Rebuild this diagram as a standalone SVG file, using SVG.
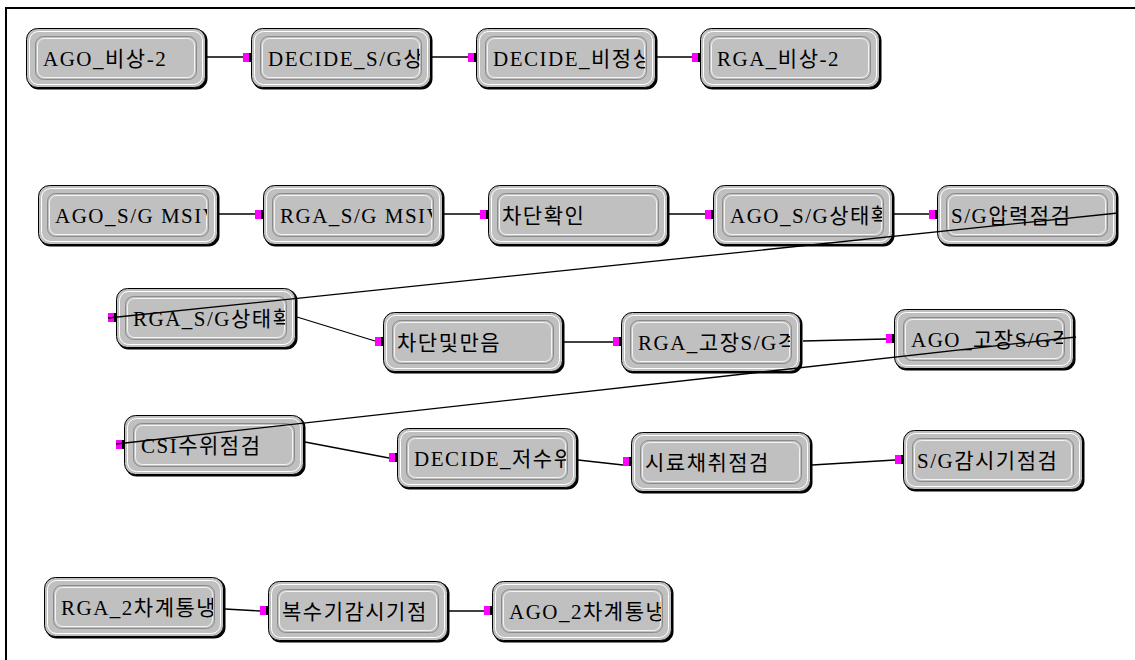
<svg xmlns="http://www.w3.org/2000/svg" width="1135" height="660" viewBox="0 0 1135 660">
  <style>
    .lbl { font-family: "Liberation Serif", "Noto Sans CJK KR", serif; font-size: 21px; letter-spacing: 1.5px; fill: #000; }
    .wire { stroke: #000; stroke-width: 1.3; fill: none; }
    .frame { stroke: #000; stroke-width: 2; fill: none; }
  </style>
  <defs>
    <!-- rounded bevelled box used by every step -->
    <g id="node-shape">
      <rect x="1.5" y="1.5" width="180" height="60" rx="11" fill="#000"/>
      <rect x="0.5" y="0.5" width="179" height="59" rx="11" fill="#c0c0c0" stroke="#000"/>
      <rect x="3.5" y="3.5" width="173" height="53" rx="9" fill="none" stroke="#fff"/>
      <rect x="9.5" y="8.5" width="161" height="43" rx="8" fill="#c0c0c0" stroke="#8a8a8a"/>
      <rect x="11.5" y="10.5" width="157" height="39" rx="7" fill="none" stroke="#f4f4f4"/>
    </g>
    <!-- input port on the left edge -->
    <g id="port">
      <rect x="-8" y="25" width="6" height="9" fill="#ff00ff"/>
      <rect x="-2" y="25" width="2" height="9" fill="#000"/>
    </g>
  </defs>

  <rect width="1135" height="660" fill="#fff"/>
  <path class="frame" d="M6,660 V8 H1135"/>

  <g id="nodes">
    <g id="n1" transform="translate(26,28)">
      <use href="#node-shape"/>
      <svg x="10" y="9" width="159" height="42"><text class="lbl" x="7" y="29">AGO_비상-2</text></svg>
    </g>
    <g id="n2" transform="translate(251,28)">
      <use href="#node-shape"/><use href="#port"/>
      <svg x="10" y="9" width="159" height="42"><text class="lbl" x="7" y="29">DECIDE_S/G상</text></svg>
    </g>
    <g id="n3" transform="translate(476,28)">
      <use href="#node-shape"/><use href="#port"/>
      <svg x="10" y="9" width="159" height="42"><text class="lbl" x="7" y="29">DECIDE_비정상</text></svg>
    </g>
    <g id="n4" transform="translate(700,28)">
      <use href="#node-shape"/><use href="#port"/>
      <svg x="10" y="9" width="159" height="42"><text class="lbl" x="7" y="29">RGA_비상-2</text></svg>
    </g>

    <g id="n5" transform="translate(38,185)">
      <use href="#node-shape"/>
      <svg x="10" y="9" width="159" height="42"><text class="lbl" x="7" y="29">AGO_S/G MSIV</text></svg>
    </g>
    <g id="n6" transform="translate(263,185)">
      <use href="#node-shape"/><use href="#port"/>
      <svg x="10" y="9" width="159" height="42"><text class="lbl" x="7" y="29">RGA_S/G MSIV</text></svg>
    </g>
    <g id="n7" transform="translate(488,185)">
      <use href="#node-shape"/><use href="#port"/>
      <svg x="10" y="9" width="159" height="42"><text class="lbl" x="4" y="29">차단확인</text></svg>
    </g>
    <g id="n8" transform="translate(713,185)">
      <use href="#node-shape"/><use href="#port"/>
      <svg x="10" y="9" width="159" height="42"><text class="lbl" x="7" y="29">AGO_S/G상태확</text></svg>
    </g>
    <g id="n9" transform="translate(937,185)">
      <use href="#node-shape"/><use href="#port"/>
      <svg x="10" y="9" width="159" height="42"><text class="lbl" x="4" y="29">S/G압력점검</text></svg>
    </g>

    <g id="n10" transform="translate(116,288)">
      <use href="#node-shape"/><use href="#port"/>
      <svg x="10" y="9" width="159" height="42"><text class="lbl" x="7" y="29">RGA_S/G상태확</text></svg>
    </g>
    <g id="n11" transform="translate(383,312)">
      <use href="#node-shape"/><use href="#port"/>
      <svg x="10" y="9" width="159" height="42"><text class="lbl" x="4" y="29">차단및만음</text></svg>
    </g>
    <g id="n12" transform="translate(621,312)">
      <use href="#node-shape"/><use href="#port"/>
      <svg x="10" y="9" width="159" height="42"><text class="lbl" x="7" y="29">RGA_고장S/G격</text></svg>
    </g>
    <g id="n13" transform="translate(894,309)">
      <use href="#node-shape"/><use href="#port"/>
      <svg x="10" y="9" width="159" height="42"><text class="lbl" x="7" y="29">AGO_고장S/G격</text></svg>
    </g>

    <g id="n14" transform="translate(124,415)">
      <use href="#node-shape"/><use href="#port"/>
      <svg x="10" y="9" width="159" height="42"><text class="lbl" x="7" y="29">CSI수위점검</text></svg>
    </g>
    <g id="n15" transform="translate(397,428)">
      <use href="#node-shape"/><use href="#port"/>
      <svg x="10" y="9" width="159" height="42"><text class="lbl" x="7" y="29">DECIDE_저수위</text></svg>
    </g>
    <g id="n16" transform="translate(631,432)">
      <use href="#node-shape"/><use href="#port"/>
      <svg x="10" y="9" width="159" height="42"><text class="lbl" x="4" y="29">시료채취점검</text></svg>
    </g>
    <g id="n17" transform="translate(903,430)">
      <use href="#node-shape"/><use href="#port"/>
      <svg x="10" y="9" width="159" height="42"><text class="lbl" x="4" y="29">S/G감시기점검</text></svg>
    </g>

    <g id="n18" transform="translate(44,577)">
      <use href="#node-shape"/>
      <svg x="10" y="9" width="159" height="42"><text class="lbl" x="7" y="29">RGA_2차계통냉</text></svg>
    </g>
    <g id="n19" transform="translate(268,581)">
      <use href="#node-shape"/><use href="#port"/>
      <svg x="10" y="9" width="159" height="42"><text class="lbl" x="4" y="29">복수기감시기점</text></svg>
    </g>
    <g id="n20" transform="translate(492,581)">
      <use href="#node-shape"/><use href="#port"/>
      <svg x="10" y="9" width="159" height="42"><text class="lbl" x="7" y="29">AGO_2차계통냉</text></svg>
    </g>
  </g>

  <g id="connectors">
    <line class="wire" x1="207" y1="57" x2="243" y2="57"/>
    <line class="wire" x1="432" y1="57" x2="468" y2="57"/>
    <line class="wire" x1="657" y1="57" x2="692" y2="57"/>

    <line class="wire" x1="219" y1="214" x2="255" y2="214"/>
    <line class="wire" x1="444" y1="214" x2="480" y2="214"/>
    <line class="wire" x1="669" y1="214" x2="705" y2="214"/>
    <line class="wire" x1="894" y1="214" x2="929" y2="214"/>
    <line class="wire" x1="1118" y1="213" x2="108" y2="318"/>

    <line class="wire" x1="297" y1="317" x2="375" y2="341"/>
    <line class="wire" x1="564" y1="342" x2="613" y2="342"/>
    <line class="wire" x1="803" y1="341" x2="886" y2="339"/>
    <line class="wire" x1="1076" y1="337" x2="116" y2="444"/>

    <line class="wire" x1="305" y1="442" x2="389" y2="458"/>
    <line class="wire" x1="578" y1="460" x2="623" y2="465"/>
    <line class="wire" x1="812" y1="465" x2="895" y2="460"/>

    <line class="wire" x1="225" y1="609" x2="260" y2="611"/>
    <line class="wire" x1="449" y1="611" x2="484" y2="611"/>
  </g>
</svg>
